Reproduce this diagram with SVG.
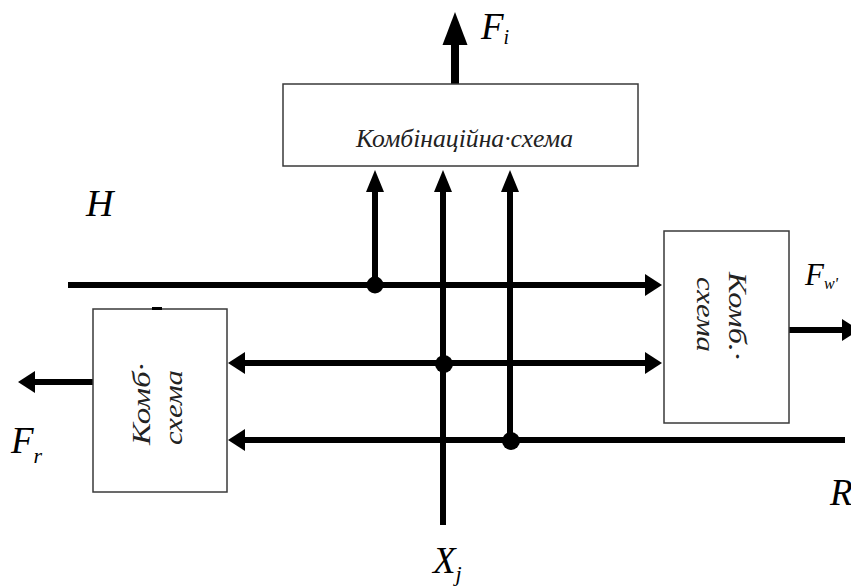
<svg xmlns="http://www.w3.org/2000/svg" width="851" height="587" viewBox="0 0 851 587">
<style>
.box{fill:#fff;stroke:#3a3a3a;stroke-width:1.5}
.ln{fill:none;stroke:#000;stroke-width:6}
.lbl{font-family:"Liberation Serif","DejaVu Serif",serif;font-style:italic;fill:#000}
.bt{font-family:"Liberation Serif","DejaVu Serif",serif;font-style:italic;font-size:25px;fill:#222}
.dot{fill:#000}
</style>
<defs>
<marker id="ah" markerUnits="userSpaceOnUse" viewBox="0 -12 18 24" markerWidth="18" markerHeight="24" refX="0" refY="0" orient="auto-start-reverse" overflow="visible">
<path d="M0,-11 L17,0 L0,11 Z" fill="#000"/>
</marker>
<marker id="av" markerUnits="userSpaceOnUse" viewBox="0 -10 23 20" markerWidth="23" markerHeight="20" refX="0" refY="0" orient="auto" overflow="visible">
<path d="M0,-9 L22,0 L0,9 Z" fill="#000"/>
</marker>
<marker id="abig" markerUnits="userSpaceOnUse" viewBox="0 -13 34 26" markerWidth="34" markerHeight="26" refX="0" refY="0" orient="auto" overflow="visible">
<path d="M0,-12.5 L33,0 L0,12.5 Z" fill="#000"/>
</marker>
</defs>

<g id="connectors">
<path class="ln" d="M68,285 H645" marker-end="url(#ah)"/>
<path class="ln" d="M245,363 H645" marker-start="url(#ah)" marker-end="url(#ah)"/>
<path class="ln" d="M845,440 H245" marker-end="url(#ah)"/>
<path class="ln" d="M375,285 V192" marker-end="url(#av)"/>
<path class="ln" d="M443,525 V192" marker-end="url(#av)"/>
<path class="ln" d="M510,440 V192" marker-end="url(#av)"/>
<path class="ln" style="stroke-width:8" d="M455,84 V45" marker-end="url(#abig)"/>
<path class="ln" d="M93,382 H35" marker-end="url(#ah)"/>
<path class="ln" d="M789,330 H842" marker-end="url(#ah)"/>
<circle class="dot" cx="375" cy="285" r="8.5"/>
<circle class="dot" cx="444" cy="364" r="9"/>
<circle class="dot" cx="511" cy="441" r="9"/>
</g>

<g id="node-top">
<rect class="box" x="283" y="84" width="355" height="82"/>
<text class="bt" x="356" y="147" textLength="217" lengthAdjust="spacingAndGlyphs">Комбінаційна·схема</text>
</g>

<g id="node-right">
<rect class="box" x="664" y="231" width="125" height="192"/>
<text class="bt" transform="translate(729,272) rotate(90)" x="0" y="0" textLength="88" lengthAdjust="spacingAndGlyphs">Комб.·</text>
<text class="bt" transform="translate(697,277) rotate(90)" x="0" y="0" textLength="75" lengthAdjust="spacingAndGlyphs">схема</text>
</g>

<g id="node-left">
<rect class="box" x="93" y="309" width="134" height="183"/>
<rect x="152" y="307" width="10" height="3" fill="#000"/>
<text class="bt" transform="translate(150,445) rotate(-90)" x="0" y="0" textLength="82" lengthAdjust="spacingAndGlyphs">Комб·</text>
<text class="bt" transform="translate(182,445) rotate(-90)" x="0" y="0" textLength="75" lengthAdjust="spacingAndGlyphs">схема</text>
</g>

<g id="labels">
<text class="lbl" x="481" y="39" font-size="37">F<tspan font-size="20" dy="5">i</tspan></text>
<text class="lbl" x="86" y="216" font-size="38">H</text>
<text class="lbl" x="805" y="285" font-size="31">F<tspan font-size="16" dy="4">w'</tspan></text>
<text class="lbl" x="11" y="453" font-size="37">F<tspan font-size="22" dy="10">r</tspan></text>
<text class="lbl" x="433" y="573" font-size="37">X<tspan font-size="22" dy="8">j</tspan></text>
<text class="lbl" x="830" y="505" font-size="37">R</text>
</g>
</svg>
